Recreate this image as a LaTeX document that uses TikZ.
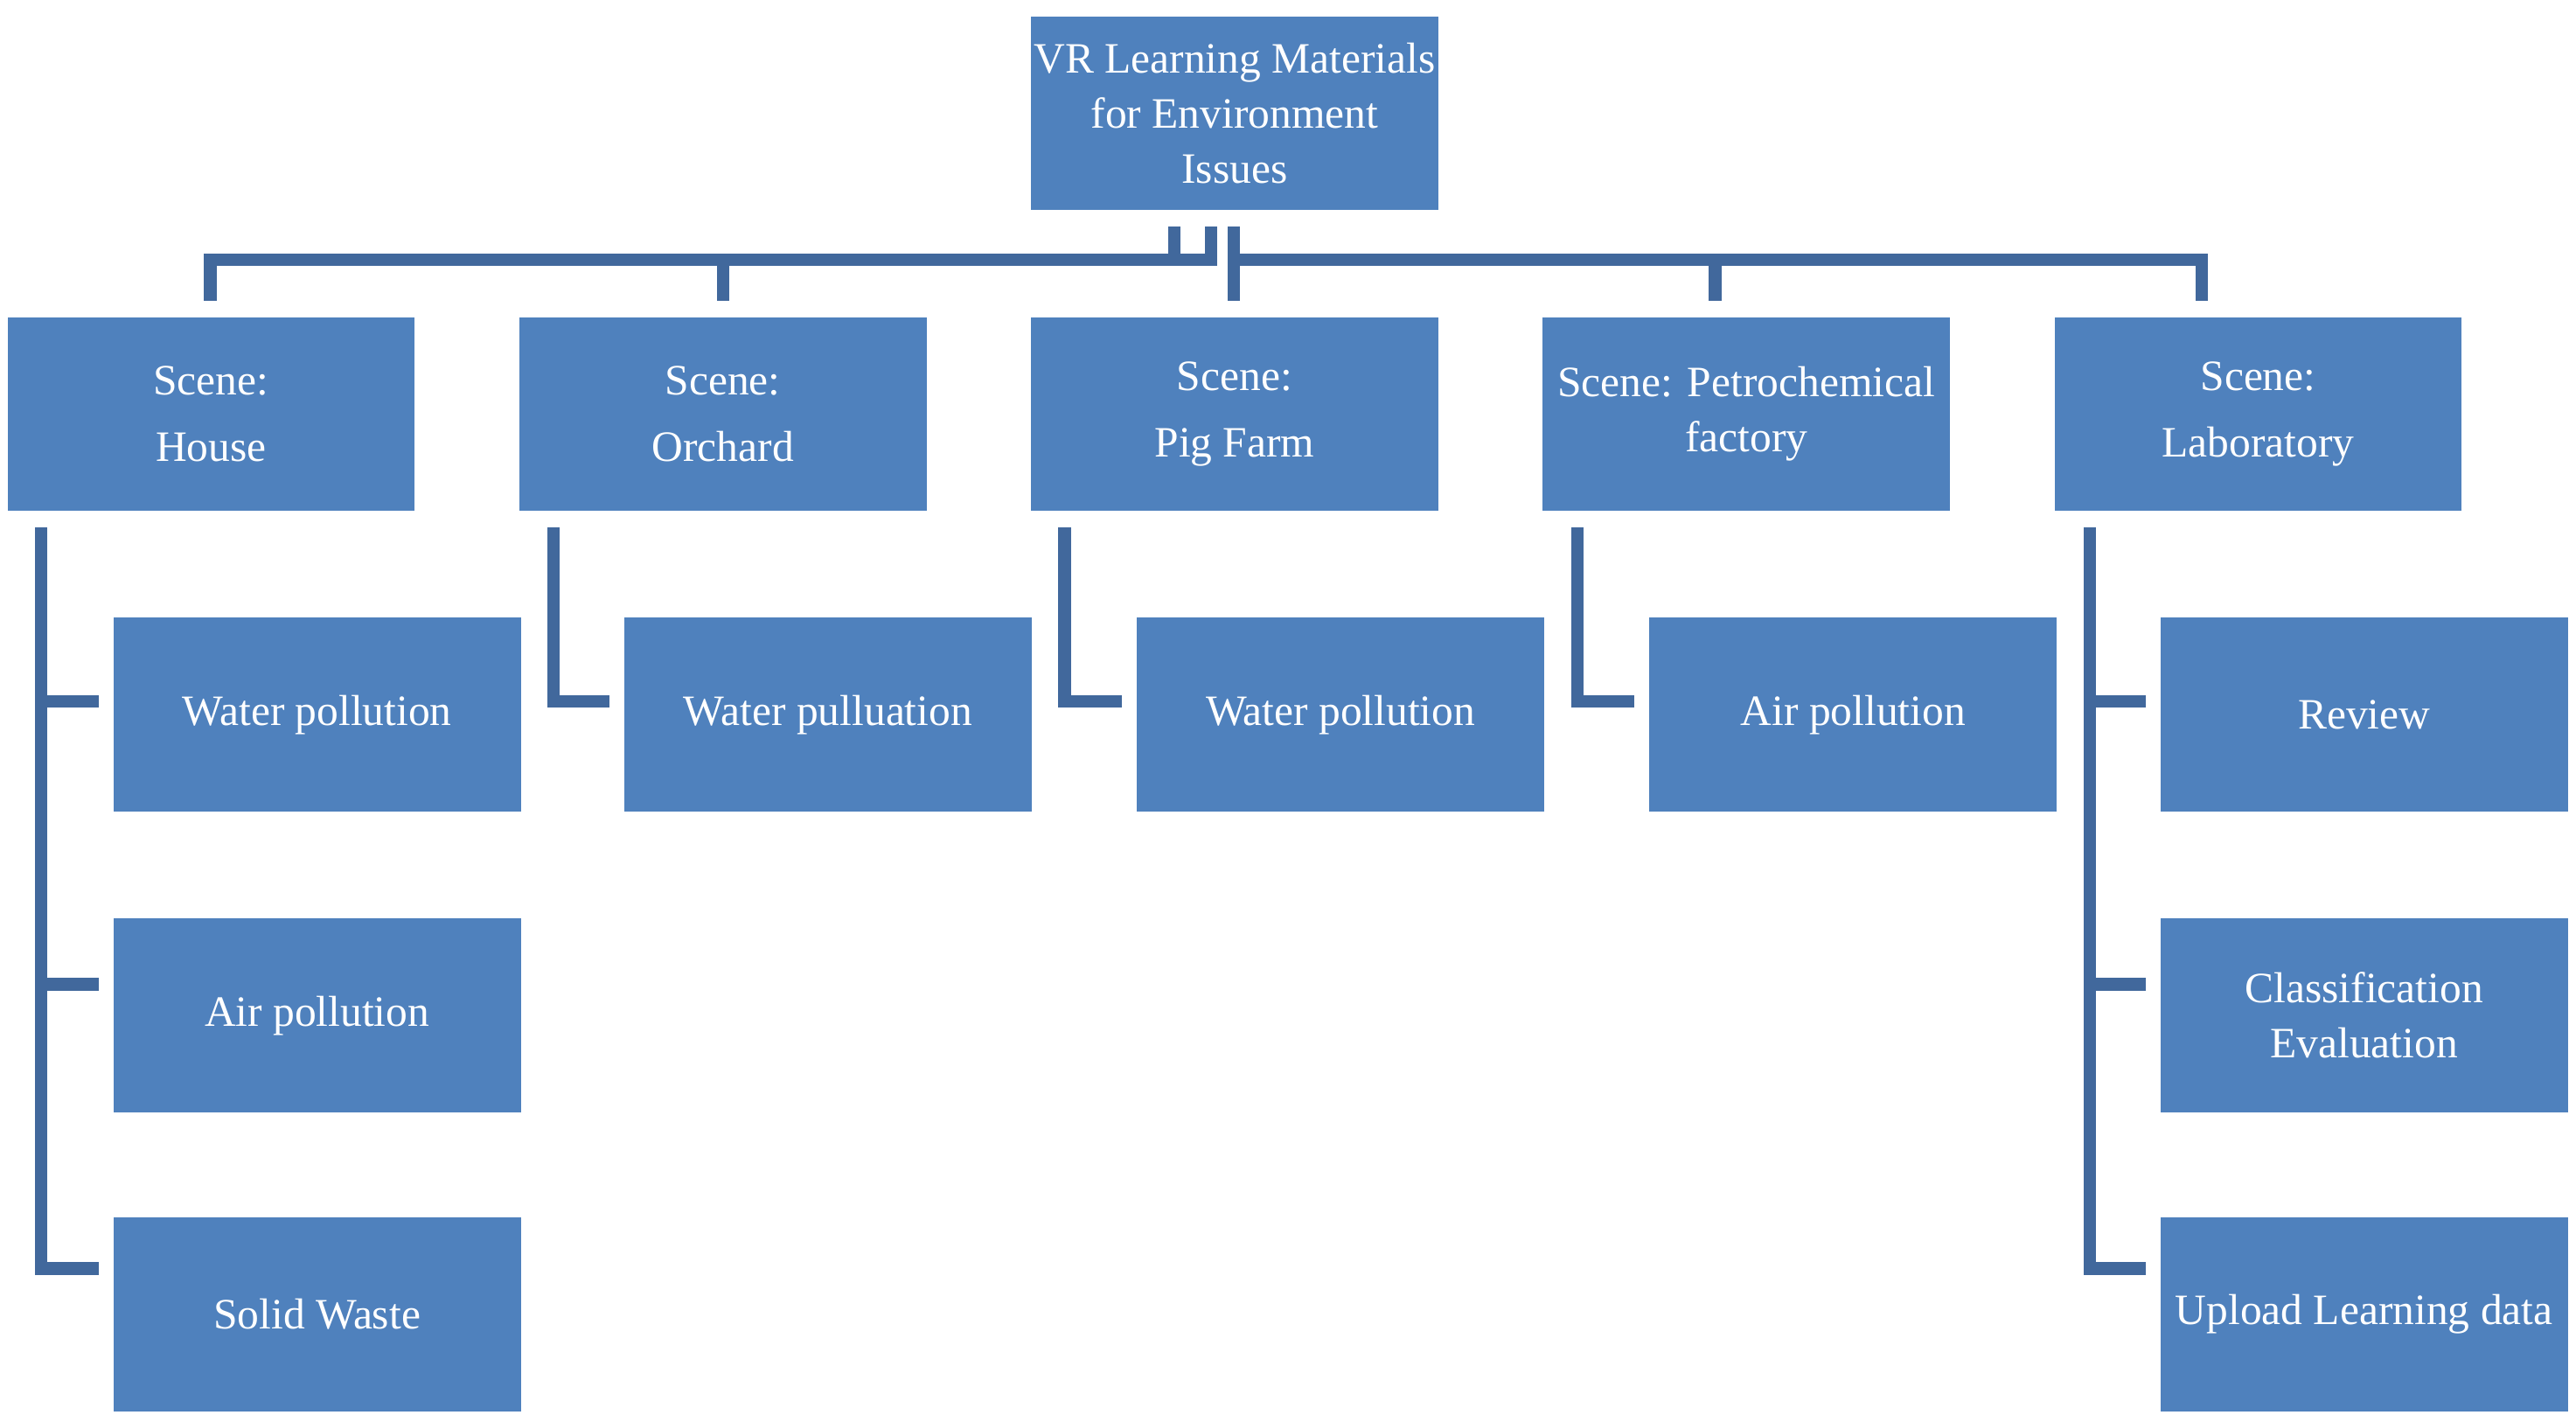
\documentclass[tikz,border=0pt]{standalone}
\usepackage{fontspec}
\setmainfont{Liberation Serif}
\begin{document}
\begin{tikzpicture}[x=0.02cm,y=-0.02cm,
  box/.style={fill=boxc,draw=none,text=white,minimum width=4.96cm,minimum height=2.36cm,align=center,inner sep=0pt,font=\fontsize{15}{19}\selectfont},
  ln/.style={draw=linec,line width=4.3pt}]
\definecolor{boxc}{HTML}{4F81BD}
\definecolor{linec}{HTML}{41689C}
\useasboundingbox (0,0) rectangle (1568,865);
\node[box] (top) at (751.5,69) {VR Learning Materials\\for Environment\\Issues};
\node[box] (s1) at (128.5,252) {Scene:\\[4pt]House};
\node[box] (s2) at (440,252) {Scene:\\[4pt]Orchard};
\node[box] (s3) at (751.5,252) {Scene:\\[4pt]Pig Farm};
\node[box] (s4) at (1063,252) {Scene: Petrochemical\\factory};
\node[box] (s5) at (1374.5,252) {Scene:\\[4pt]Laboratory};
\node[box] (a1) at (193,435) {Water pollution};
\node[box] (a2) at (193,618) {Air pollution};
\node[box] (a3) at (193,800) {Solid Waste};
\node[box] (b1) at (504,435) {Water pulluation};
\node[box] (c1) at (816,435) {Water pollution};
\node[box] (d1) at (1128,435) {Air pollution};
\node[box] (e1) at (1439,435) {Review};
\node[box] (e2) at (1439,618) {Classification\\Evaluation};
\node[box] (e3) at (1439,800) {Upload Learning data};
% top connectors
\draw[ln] (715,138) -- (715,158) -- (128,158) -- (128,183);
\draw[ln] (440,158) -- (440,183);
\draw[ln] (715,158) -- (737,158) -- (737,138);
\draw[ln] (751,138) -- (751,183);
\draw[ln] (751,158) -- (1340,158) -- (1340,183);
\draw[ln] (1044,158) -- (1044,183);
% left
\draw[ln] (25,321) -- (25,772) -- (60,772);
\draw[ln] (25,427) -- (60,427);
\draw[ln] (25,599) -- (60,599);
\draw[ln] (337,321) -- (337,427) -- (371,427);
\draw[ln] (648,321) -- (648,427) -- (683,427);
\draw[ln] (960,321) -- (960,427) -- (995,427);
\draw[ln] (1272,321) -- (1272,772) -- (1306,772);
\draw[ln] (1272,427) -- (1306,427);
\draw[ln] (1272,599) -- (1306,599);
\end{tikzpicture}
\end{document}
